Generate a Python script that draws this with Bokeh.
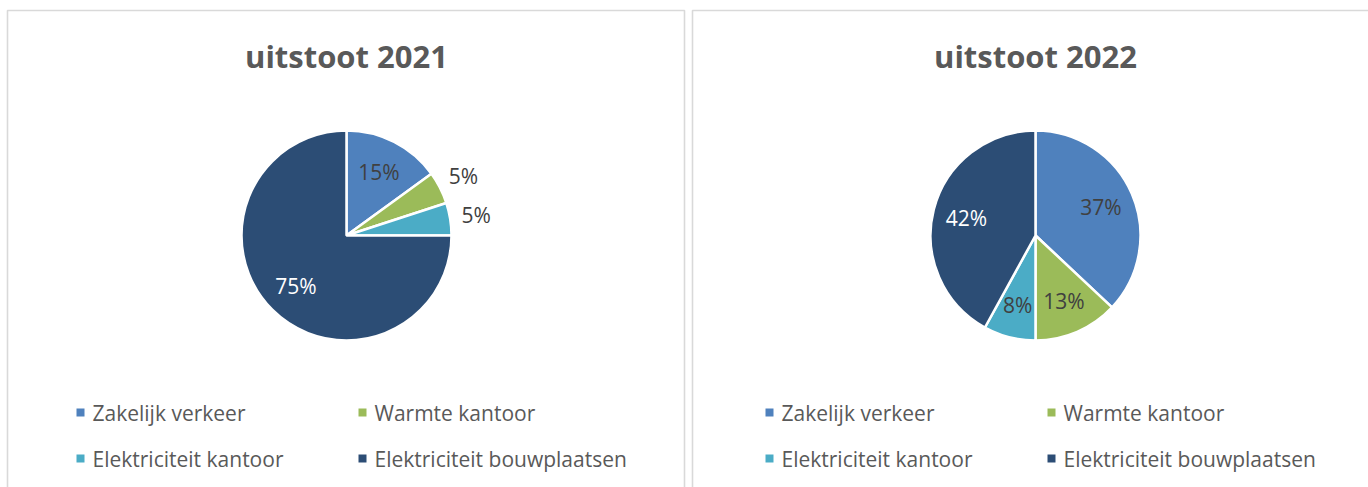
import numpy as np
from bokeh.plotting import figure
from bokeh.models import Range1d, ColumnDataSource
from bokeh.embed import file_html
from bokeh.resources import INLINE
from bokeh.core.properties import value

# ---- data ----
categories = ["Zakelijk verkeer", "Warmte kantoor", "Elektriciteit kantoor", "Elektriciteit bouwplaatsen"]
values_2021 = [15, 5, 5, 75]
values_2022 = [37, 13, 8, 42]
titles = ["uitstoot 2021", "uitstoot 2022"]
colors = ["#4F81BD", "#9BBB59", "#4BACC6", "#2C4D75"]
label_colors = ["#404040", "#404040", "#404040", "#FFFFFF"]

# ---- layout ----
W, H = 1368, 487
FONT = "Open Sans"
TEXT_GREY = "#595959"
panel_dx = 689          # offset between the two panels
pie_cx, pie_cy, pie_r = 346, 235, 105   # top-down pixel layout

def Y(ytop):
    return H - ytop

p = figure(width=W, height=H, x_range=Range1d(0, W), y_range=Range1d(0, H),
           output_backend="svg", toolbar_location=None, min_border=0,
           background_fill_color="white", border_fill_color="white")
p.axis.visible = False
p.grid.visible = False
p.outline_line_color = None

# panel borders
p.multi_line(xs=[[7, 7, 684, 684], [692, 692, W + 5]],
             ys=[[Y(H + 5), Y(10), Y(10), Y(H + 5)], [Y(H + 5), Y(10), Y(10)]],
             line_color="#d9d9d9", line_width=1.6)

for k, (vals, title) in enumerate(zip([values_2021, values_2022], titles)):
    ox = k * panel_dx
    cx, cy = pie_cx + ox, Y(pie_cy)
    v = np.array(vals, dtype=float)
    frac = v / v.sum()
    cum = np.concatenate([[0], np.cumsum(frac)])
    start = np.pi / 2 - 2 * np.pi * cum[1:]
    end = np.pi / 2 - 2 * np.pi * cum[:-1]
    mid = 2 * np.pi * (cum[:-1] + cum[1:]) / 2   # clockwise from top
    rf = np.where(frac < 0.07, 1.25, 0.68)
    lx = cx + rf * pie_r * np.sin(mid)
    ly = cy + rf * pie_r * np.cos(mid)
    lcol = [("#404040" if f < 0.07 else c) for f, c in zip(frac, label_colors)]
    src = ColumnDataSource(dict(start=start, end=end, color=colors, cat=categories,
                                lx=lx, ly=ly, lbl=[f"{int(round(x))}%" for x in v],
                                lcol=lcol))
    p.wedge(x=cx, y=cy, radius=pie_r, start_angle="start", end_angle="end",
            fill_color="color", line_color="white", line_width=2.5, source=src)
    p.text(x="lx", y="ly", text="lbl", text_color="lcol", text_font=value(FONT),
           text_font_size="21px", text_align="center", text_baseline="middle", source=src)
    # title
    p.text(x=[pie_cx + ox], y=[Y(55)], text=[title], text_font=value(FONT),
           text_font_size="31px", text_font_style="bold", text_color=TEXT_GREY,
           text_align="center", text_baseline="middle")
    # legend
    mx = [80 + ox, 362 + ox, 80 + ox, 362 + ox]
    my = [Y(412), Y(412), Y(458), Y(458)]
    p.scatter(x=mx, y=my, marker="square", size=8, fill_color=colors, line_color=None)
    p.text(x=[m + 12 for m in mx], y=my, text=categories, text_font=value(FONT),
           text_font_size="21px", text_color=TEXT_GREY, text_align="left",
           text_baseline="middle")

open("out.html", "w").write(file_html(p, INLINE))
